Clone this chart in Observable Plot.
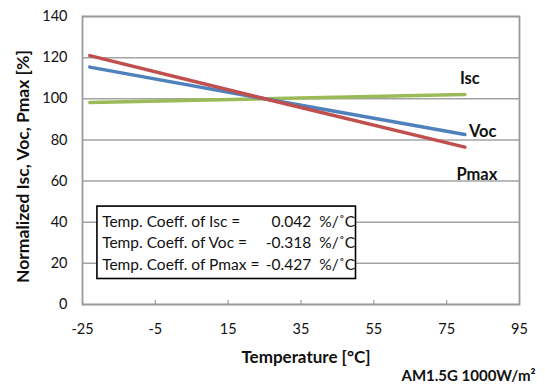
<!DOCTYPE html>
<html>
<head>
<meta charset="utf-8">
<script src="https://cdn.jsdelivr.net/npm/d3@7"></script>
<script src="https://cdn.jsdelivr.net/npm/@observablehq/plot@0.6"></script>
<style>
  html, body { margin: 0; padding: 0; background: #fff; }
  #chart svg { display: block; }
</style>
</head>
<body>
<div id="chart"></div>
<script>
// ---- data ----
const temperature = [-23, 25, 80];
const iscValues  = [98.2, 100, 102.1];
const vocValues  = [115.4, 100, 82.6];
const pmaxValues = [121.0, 100, 76.5];

const seriesNames  = ["Isc", "Voc", "Pmax"];
const seriesColors = ["#9bbb59", "#4f81bd", "#c0504d"];

const xTicks = [-25, -5, 15, 35, 55, 75, 95];
const yTicks = [0, 20, 40, 60, 80, 100, 120, 140];

const coeffLabels = ["Temp. Coeff. of Isc =", "Temp. Coeff. of Voc =", "Temp. Coeff. of Pmax ="];
const coeffValues = ["0.042", "-0.318", "-0.427"];
const coeffUnit = "%/\u02DAC";

const xTitle = "Temperature [°C]";
const yTitle = "Normalized Isc, Voc, Pmax [%]";
const condition = "AM1.5G 1000W/m²";

// ---- tables built from the arrays ----
const seriesValues = [iscValues, vocValues, pmaxValues];
const rows = seriesNames.flatMap((name, i) =>
  temperature.map((t, j) => ({series: name, t, v: seriesValues[i][j]})));
const lastPoint = name => rows.filter(d => d.series === name).slice(-1);

// annotation box placement (data space)
const box = [{x1: -20.9, x2: 50.1, y1: 12.4, y2: 47.6}];
const rowY = [40.3, 30.0, 19.0];
const coeffRows = coeffLabels.map((label, i) => ({label, value: coeffValues[i], unit: coeffUnit, y: rowY[i]}));

const font = "Lato, 'Open Sans', sans-serif";

const chart = Plot.plot({
  width: 545,
  height: 387,
  marginLeft: 82,
  marginRight: 26,
  marginTop: 16,
  marginBottom: 83,
  style: {fontFamily: font, fontSize: "14px", color: "#111", background: "#fff"},
  x: {domain: [-25, 95], ticks: xTicks},
  y: {domain: [0, 140], ticks: yTicks},
  marks: [
    Plot.gridY(yTicks, {stroke: "#a3a3a3", strokeOpacity: 1, strokeWidth: 1.5}),
    Plot.ruleX(xTicks, {stroke: "#999", strokeWidth: 1.2, insetTop: 284}),
    Plot.frame({stroke: "#9a9a9a", strokeWidth: 1.8}),
    Plot.axisY({ticks: yTicks, tickSize: 0, tickPadding: 15, label: null, fontSize: 14.5, tickFormat: d => String(d)}),
    Plot.axisX({ticks: xTicks, tickSize: 0, tickPadding: 19, label: null, fontSize: 14.5, tickFormat: d => String(d)}),
    // annotation box
    Plot.rect(box, {x1: "x1", x2: "x2", y1: "y1", y2: "y2", fill: "#fff", stroke: "#000", strokeWidth: 1.6}),
    Plot.text(coeffRows, {x: -19.6, y: "y", text: "label", textAnchor: "start", fontSize: 15.5, fill: "#111"}),
    Plot.text(coeffRows, {x: 37.8, y: "y", text: "value", textAnchor: "end", fontSize: 15.5, fill: "#111"}),
    Plot.text(coeffRows, {x: 40.0, y: "y", text: "unit", textAnchor: "start", fontSize: 15.5, fill: "#111"}),
    // series lines
    Plot.line(rows, {x: "t", y: "v", z: "series", stroke: "series", strokeWidth: 3.5}),
    // series labels anchored to line ends
    Plot.text(lastPoint("Isc"), {x: "t", y: "v", text: "series", dx: 5, dy: -16, fontSize: 16.5, fontWeight: "bold", fill: "#111"}),
    Plot.text(lastPoint("Voc"), {x: "t", y: "v", text: "series", textAnchor: "start", dx: 4, dy: -3, fontSize: 16.5, fontWeight: "bold", fill: "#111"}),
    Plot.text(lastPoint("Pmax"), {x: "t", y: "v", text: "series", dx: 12, dy: 28, fontSize: 16.5, fontWeight: "bold", fill: "#111"}),
    // titles
    Plot.text([xTitle], {frameAnchor: "bottom", text: d => d, dx: 5, dy: 58, fontSize: 17, fontWeight: "bold", fill: "#111"}),
    Plot.text([yTitle], {frameAnchor: "left", text: d => d, textAnchor: "middle", rotate: -90, dx: -59, dy: 6, fontSize: 17.5, fontWeight: "bold", fill: "#111"}),
    Plot.text([condition], {frameAnchor: "bottom-right", text: d => d, textAnchor: "end", dx: 16, dy: 76, fontSize: 15, fontWeight: "bold", fill: "#111"})
  ],
  color: {domain: seriesNames, range: seriesColors}
});

document.getElementById("chart").appendChild(chart);
</script>
</body>
</html>
